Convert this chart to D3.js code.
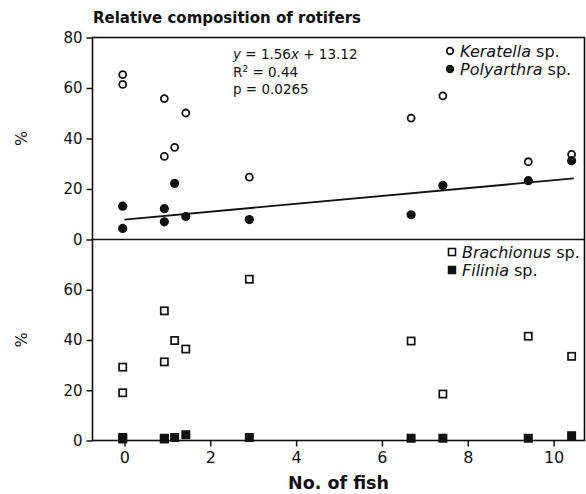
<!DOCTYPE html>
<html>
<head>
<meta charset="utf-8">
<script src="https://cdn.jsdelivr.net/npm/d3@7"></script>
<style>
  body { margin: 0; background: #fff; }
  svg text { font-family: "DejaVu Sans", sans-serif; fill: #111; }
</style>
</head>
<body>
<div id="chart"></div>
<script>
// data
const fishX      = [-0.04, -0.04, 0.93, 0.93, 1.17, 1.43, 2.91, 6.68, 7.42, 9.41, 10.42];
const keratella  = [65.3, 61.4, 55.8, 32.9, 36.5, 50.1, 24.7, 48.1, 56.9, 30.8, 33.7];
const polyarthra = [13.2, 4.4, 12.2, 7.0, 22.2, 9.1, 7.9, 9.8, 21.4, 23.3, 31.2];
const brachionus = [29.2, 19.0, 51.6, 31.3, 39.8, 36.4, 64.2, 39.6, 18.5, 41.5, 33.5];
const filinia    = [1.2, 0.6, 0.9, 0.6, 1.2, 2.3, 1.2, 0.9, 0.9, 0.9, 1.9];

const regX = [0, 10.47];
const regY = [7.9, 24.2];

const xTicks = [0, 2, 4, 6, 8, 10];
const yTicksTop = [0, 20, 40, 60, 80];
const yTicksBottom = [0, 20, 40, 60];

const width = 586, height = 494;
const plotL = 92.5, plotR = 584.5, plotT = 37.5, plotM = 239.5, plotB = 440.5;
const ink = "#111";

const svg = d3.select("#chart").append("svg")
    .attr("width", width)
    .attr("height", height);

const x = d3.scaleLinear().domain([-0.744, 10.72]).range([plotL, plotR]);
const yTop = d3.scaleLinear().domain([0, 80]).range([plotM, plotT]);
const yBot = d3.scaleLinear().domain([0, 80]).range([plotB, plotM]);

// frame
svg.append("rect")
    .attr("x", plotL).attr("y", plotT)
    .attr("width", plotR - plotL).attr("height", plotB - plotT)
    .attr("fill", "none").attr("stroke", ink).attr("stroke-width", 1.6);
svg.append("line")
    .attr("x1", plotL).attr("x2", plotR).attr("y1", plotM).attr("y2", plotM)
    .attr("stroke", ink).attr("stroke-width", 1.6);

// axes
function styleAxis(g, size) {
    g.select(".domain").remove();
    g.selectAll(".tick line").attr("stroke", ink).attr("stroke-width", 1.5);
    g.selectAll(".tick text").style("font-size", size + "px").attr("fill", ink);
}

svg.append("g")
    .attr("transform", `translate(${plotL},0)`)
    .call(d3.axisLeft(yTop).tickValues(yTicksTop).tickSize(6).tickPadding(4))
    .call(g => styleAxis(g, 15));

svg.append("g")
    .attr("transform", `translate(${plotL},0)`)
    .call(d3.axisLeft(yBot).tickValues(yTicksBottom).tickSize(6).tickPadding(4))
    .call(g => styleAxis(g, 15));

svg.append("g")
    .attr("transform", `translate(0,${plotB})`)
    .call(d3.axisBottom(x).tickValues(xTicks).tickSize(6).tickPadding(5))
    .call(g => styleAxis(g, 16));

// titles
svg.append("text")
    .attr("x", 93).attr("y", 23)
    .style("font-size", "15px").style("font-weight", "bold")
    .text("Relative composition of rotifers");

svg.append("text")
    .attr("x", (plotL + plotR) / 2).attr("y", 489)
    .attr("text-anchor", "middle")
    .style("font-size", "17.5px").style("font-weight", "bold")
    .text("No. of fish");

[(plotT + plotM) / 2, (plotM + plotB) / 2].forEach(cy => {
    svg.append("text")
        .attr("transform", `translate(27,${cy}) rotate(-90)`)
        .attr("text-anchor", "middle")
        .style("font-size", "16px")
        .text("%");
});

// regression
svg.append("line")
    .attr("x1", x(regX[0])).attr("y1", yTop(regY[0]))
    .attr("x2", x(regX[1])).attr("y2", yTop(regY[1]))
    .attr("stroke", ink).attr("stroke-width", 1.8);

const eq = svg.append("text").style("font-size", "13.5px").attr("x", 233).attr("y", 59);
eq.append("tspan").style("font-style", "italic").text("y");
eq.append("tspan").text(" = 1.56");
eq.append("tspan").style("font-style", "italic").text("x");
eq.append("tspan").text(" + 13.12");

const r2 = svg.append("text").style("font-size", "13.5px").attr("x", 233).attr("y", 77);
r2.append("tspan").text("R");
r2.append("tspan").attr("dy", -5).style("font-size", "9px").text("2");
r2.append("tspan").attr("dy", 5).text(" = 0.44");

svg.append("text").style("font-size", "13.5px").attr("x", 233).attr("y", 94)
    .text("p = 0.0265");

// points, top panel
const pts = fishX.map((fx, i) => ({ fx, k: keratella[i], p: polyarthra[i], b: brachionus[i], f: filinia[i] }));

svg.append("g").selectAll("circle")
    .data(pts).join("circle")
    .attr("cx", d => x(d.fx)).attr("cy", d => yTop(d.k))
    .attr("r", 3.5)
    .attr("fill", "#fff").attr("stroke", ink).attr("stroke-width", 1.8);

svg.append("g").selectAll("circle")
    .data(pts).join("circle")
    .attr("cx", d => x(d.fx)).attr("cy", d => yTop(d.p))
    .attr("r", 4.6)
    .attr("fill", ink);

// points, bottom panel
svg.append("g").selectAll("rect")
    .data(pts).join("rect")
    .attr("x", d => x(d.fx) - 3.6).attr("y", d => yBot(d.b) - 3.6)
    .attr("width", 7.2).attr("height", 7.2)
    .attr("fill", "#fff").attr("stroke", ink).attr("stroke-width", 1.7);

svg.append("g").selectAll("rect")
    .data(pts).join("rect")
    .attr("x", d => x(d.fx) - 4.5).attr("y", d => yBot(d.f) - 4.5)
    .attr("width", 9).attr("height", 9)
    .attr("fill", ink);

// legends
function legendRow(cx, cy, shape, filled, genus) {
    const g = svg.append("g");
    if (shape === "circle") {
        g.append("circle").attr("cx", cx).attr("cy", cy)
            .attr("r", filled ? 4.2 : 3.3)
            .attr("fill", filled ? ink : "#fff")
            .attr("stroke", filled ? "none" : ink).attr("stroke-width", 1.7);
    } else {
        const s = filled ? 8.5 : 7;
        g.append("rect").attr("x", cx - s / 2).attr("y", cy - s / 2)
            .attr("width", s).attr("height", s)
            .attr("fill", filled ? ink : "#fff")
            .attr("stroke", filled ? "none" : ink).attr("stroke-width", 1.6);
    }
    const t = g.append("text").attr("x", cx + 10).attr("y", cy + 6).style("font-size", "16px");
    t.append("tspan").style("font-style", "italic").text(genus);
    t.append("tspan").text(" sp.");
}

legendRow(450, 51, "circle", false, "Keratella");
legendRow(450, 69, "circle", true, "Polyarthra");
legendRow(452, 252, "square", false, "Brachionus");
legendRow(452, 270, "square", true, "Filinia");
</script>
</body>
</html>
